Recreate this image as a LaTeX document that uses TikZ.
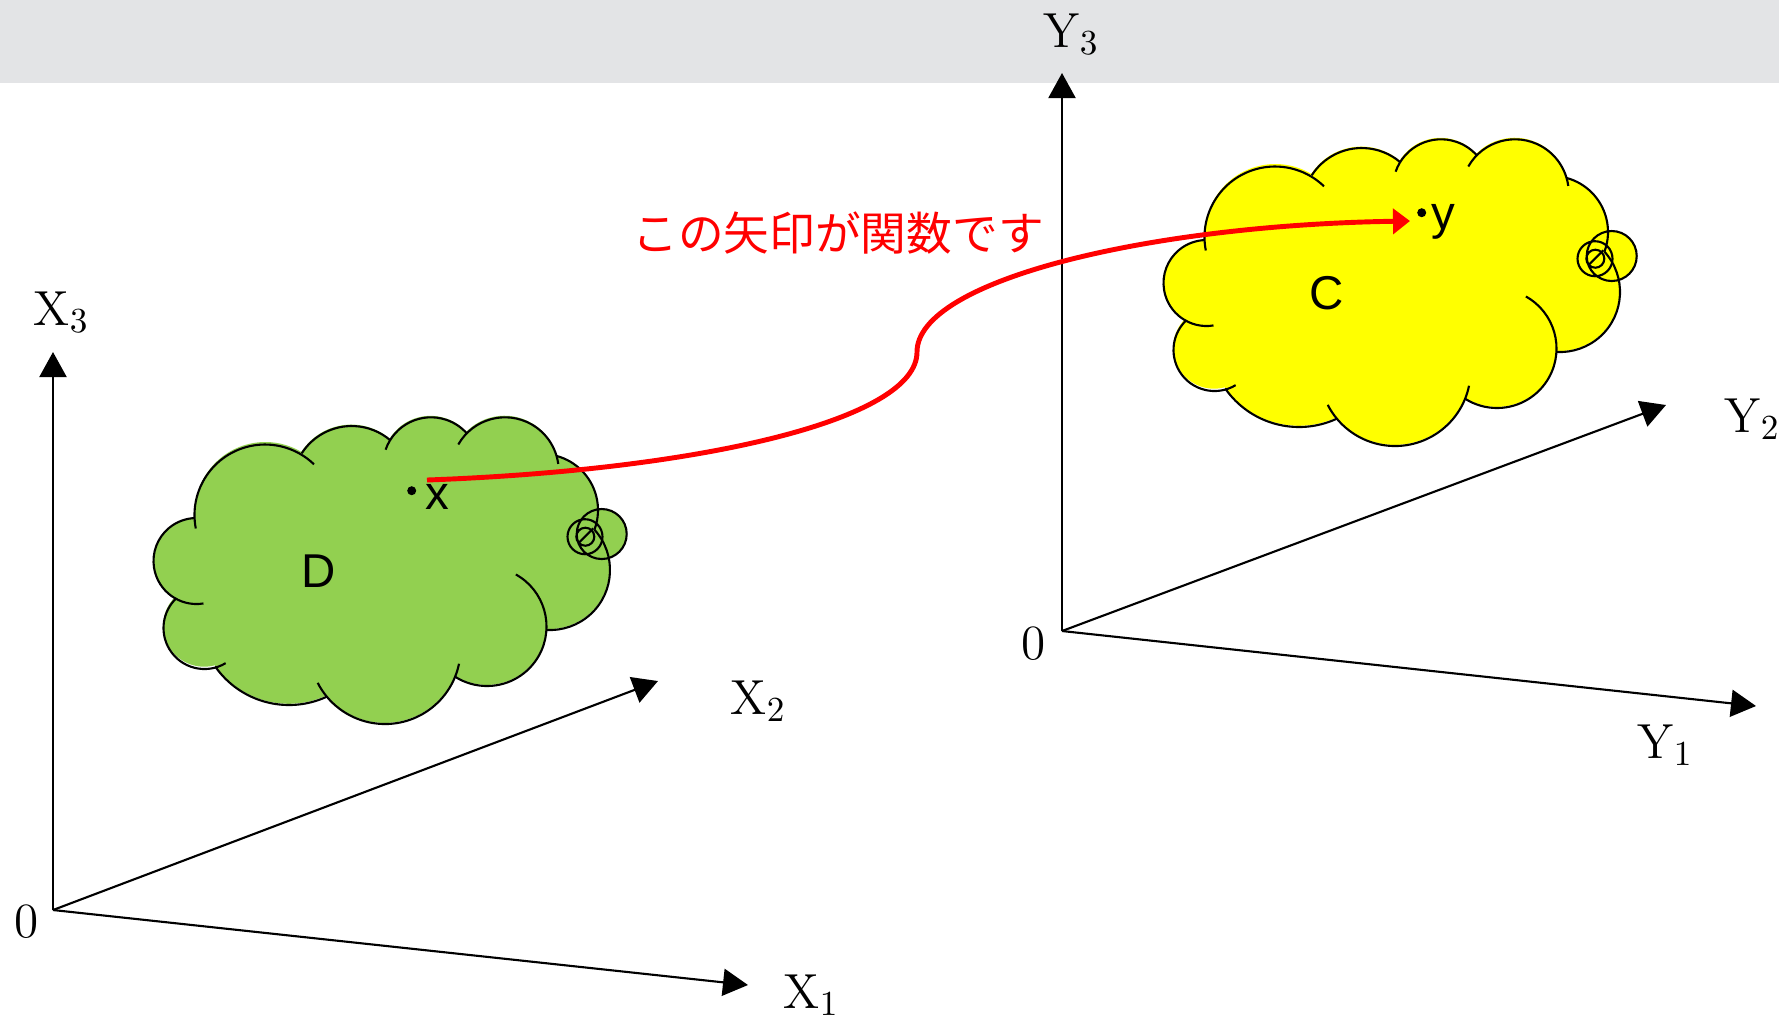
\documentclass[tikz,border=0pt]{standalone}
\usepackage{fontspec}
\usepackage{xcolor}
\usepackage{tikz}
\usetikzlibrary{arrows.meta}
\newfontfamily\sansfont{Liberation Sans}
\newfontfamily\jpfont{Noto Sans CJK JP}
\definecolor{Band}{HTML}{E3E4E6}
\definecolor{Leaf}{HTML}{92D050}
\definecolor{Lemon}{HTML}{FFFF00}
\definecolor{Signal}{HTML}{FF0000}

\begin{document}
\begin{tikzpicture}[
    x=0.01cm, y=-0.01cm,
    axis/.style={-{Triangle[length=2.5mm, width=2.7mm]}, line width=0.6pt},
    axlabel/.style={inner sep=0pt, anchor=base west, font=\fontsize{14}{16}\selectfont},
    ptlabel/.style={font=\sansfont\fontsize{13.5}{15}\selectfont},
    mapsto/.style={-{Triangle[length=1.7mm, width=2.5mm]}, line width=1.4pt, draw=Signal},
    lumpy cloud/.pic={
      % body of the cloud
      \fill[pic actions] (176.5,598.5)
        arc[start angle=117.9, end angle=267.9, radius=43]
        arc[start angle=175.9, end angle=300.7, radius=70.5]
        arc[start angle=212.7, end angle=310.2, radius=59.4]
        arc[start angle=211.7, end angle=318.1, radius=48]
        arc[start angle=224.5, end angle=344.5, radius=53.7]
        arc[start angle=285.4, end angle=380.6, radius=56]
        arc[start angle=317.8, end angle=453.1, radius=60]
        arc[start angle=3.4, end angle=122.5, radius=59.5]
        arc[start angle=22, end angle=140.4, radius=75.6]
        arc[start angle=65.2, end angle=145.1, radius=90]
        arc[start angle=74.8, end angle=226.9, radius=41] -- cycle;
      % little rings on the right
      \fill[pic actions] (601.7,534) circle[radius=25] (585,536.7) circle[radius=17.5];
      \draw[line width=0.6pt] (601.7,534) circle[radius=25] (585,536.7) circle[radius=17.5]
        (585.3,536.7) circle[radius=9];
      \draw[line width=0.6pt] (578.3,543.3) -- (593.3,528.3);
      % outline of every lobe
      \foreach \cx/\cy/\r/\a/\b in {196.5/561/43/80.7/267.9, 265/515/70.5/169/314,
          351.7/485.4/59.4/212.7/310.2, 431/465.3/48/199/318.1, 505/471/53.7/209.6/352.4,
          542/510/56/285.4/380.6, 550/570/60/317.8/453.1, 487/626.5/59.5/-61/122.5,
          385/648.4/75.6/11.7/152.9, 289/615/90/65.2/145.1, 204.5/628/41/59/226.9}
        \draw[line width=0.6pt] (\cx,\cy) ++(\a:\r) arc[start angle=\a, end angle=\b, radius=\r];
    }
  ]
  \useasboundingbox (0,0) rectangle (1779,1020);
  \fill[Band] (0,0) rectangle (1779,83);

  % domain and codomain
  \pic[fill=Leaf] at (0,0) {lumpy cloud};
  \pic[fill=Lemon] at (1010,-278) {lumpy cloud};

  % left axes
  \coordinate (origx) at (53,910);
  \coordinate (xone) at (748,985);
  \coordinate (xtwo) at (658,681);
  \coordinate (xthree) at (53,352);
  \draw[axis] (origx) -- (xone);
  \draw[axis] (origx) -- (xtwo);
  \draw[axis] (origx) -- (xthree);
  \node[axlabel] (zerox) at (14,937) {0};
  \node[axlabel] (lblxone) at (783,1008) {X$_1$};
  \node[axlabel] (lblxtwo) at (730,714) {X$_2$};
  \node[axlabel] (lblxthree) at (33,325) {X$_3$};

  % right axes
  \coordinate (origy) at (1062,631);
  \coordinate (yone) at (1756,706);
  \coordinate (ytwo) at (1666,405);
  \coordinate (ythree) at (1062,73);
  \draw[axis] (origy) -- (yone);
  \draw[axis] (origy) -- (ytwo);
  \draw[axis] (origy) -- (ythree);
  \node[axlabel] (zeroy) at (1021,659) {0};
  \node[axlabel] (lblyone) at (1637,758) {Y$_1$};
  \node[axlabel] (lblytwo) at (1724,432) {Y$_2$};
  \node[axlabel] (lblythree) at (1043,47) {Y$_3$};

  % set names and points
  \node[ptlabel] (dname) at (319,571) {D};
  \node[ptlabel] (cname) at (1327,293) {C};
  \node[ptlabel] (xpt) at (437,497) {x};
  \node[ptlabel] (ypt) at (1443,222) {y};
  \fill (411.7,490.7) circle[radius=4.5];
  \fill (1421.7,212.7) circle[radius=4.5];

  % the mapping
  \coordinate (mapfrom) at (427,480);
  \coordinate (bend) at (917,352);
  \coordinate (mapto) at (1410,221);
  \draw[mapsto] (mapfrom) .. controls (700,470) and (917,420) .. (bend)
    .. controls (917,280) and (1150,225) .. (mapto);
  \node[font=\jpfont\fontsize{13}{15}\selectfont, text=Signal] (caption) at (838,233) {この矢印が関数です};
\end{tikzpicture}
\end{document}
